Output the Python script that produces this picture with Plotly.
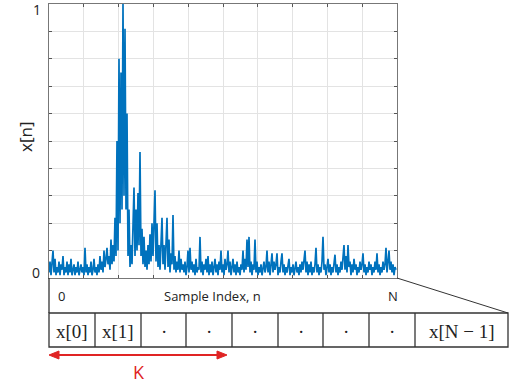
import plotly.graph_objects as go

# ---- data (one sample per pixel column) ----
signal = [
    0.02, 0.06, 0.01, 0.05, 0.10, 0.02, 0.07, 0.01, 0.04, 0.02,
    0.06, 0.01, 0.05, 0.03, 0.08, 0.01, 0.04, 0.02, 0.06, 0.01,
    0.05, 0.02, 0.07, 0.01, 0.03, 0.05, 0.01, 0.04, 0.02, 0.06,
    0.01, 0.03, 0.05, 0.02, 0.04, 0.01, 0.11, 0.02, 0.05, 0.01,
    0.04, 0.02, 0.06, 0.01, 0.03, 0.07, 0.02, 0.04, 0.01, 0.05,
    0.02, 0.08, 0.03, 0.06, 0.02, 0.10, 0.04, 0.07, 0.11, 0.05,
    0.08, 0.03, 0.14, 0.05, 0.12, 0.06, 0.22, 0.08, 0.50, 0.10,
    0.80, 0.20, 0.75, 0.25, 1.00, 0.30, 0.91, 0.25, 0.60, 0.08,
    0.25, 0.04, 0.12, 0.05, 0.20, 0.33, 0.08, 0.25, 0.10, 0.31,
    0.12, 0.46, 0.08, 0.18, 0.05, 0.15, 0.04, 0.10, 0.03, 0.12,
    0.05, 0.16, 0.06, 0.20, 0.08, 0.18, 0.32, 0.06, 0.20, 0.04,
    0.12, 0.03, 0.17, 0.22, 0.05, 0.12, 0.03, 0.10, 0.22, 0.04,
    0.14, 0.02, 0.09, 0.05, 0.23, 0.03, 0.08, 0.02, 0.06, 0.03,
    0.10, 0.02, 0.07, 0.03, 0.05, 0.02, 0.06, 0.01, 0.04, 0.10,
    0.02, 0.11, 0.03, 0.06, 0.02, 0.05, 0.01, 0.07, 0.02, 0.04,
    0.03, 0.15, 0.02, 0.06, 0.01, 0.05, 0.03, 0.07, 0.02, 0.08,
    0.01, 0.05, 0.02, 0.06, 0.01, 0.04, 0.07, 0.02, 0.05, 0.01,
    0.06, 0.03, 0.10, 0.02, 0.05, 0.01, 0.07, 0.03, 0.05, 0.10,
    0.02, 0.06, 0.01, 0.04, 0.07, 0.02, 0.05, 0.01, 0.06, 0.02,
    0.04, 0.01, 0.05, 0.03, 0.10, 0.02, 0.07, 0.03, 0.14, 0.04,
    0.15, 0.02, 0.06, 0.01, 0.05, 0.03, 0.14, 0.02, 0.06, 0.01,
    0.04, 0.02, 0.05, 0.01, 0.03, 0.06, 0.02, 0.04, 0.10, 0.02,
    0.06, 0.01, 0.05, 0.09, 0.02, 0.06, 0.03, 0.05, 0.09, 0.01,
    0.04, 0.02, 0.06, 0.09, 0.02, 0.05, 0.01, 0.04, 0.02, 0.05,
    0.07, 0.01, 0.04, 0.02, 0.05, 0.01, 0.03, 0.06, 0.02, 0.04,
    0.01, 0.05, 0.02, 0.06, 0.03, 0.07, 0.10, 0.02, 0.06, 0.01,
    0.05, 0.02, 0.06, 0.01, 0.04, 0.02, 0.05, 0.11, 0.02, 0.05,
    0.01, 0.04, 0.02, 0.06, 0.15, 0.03, 0.05, 0.01, 0.04, 0.07,
    0.02, 0.05, 0.01, 0.04, 0.02, 0.06, 0.085, 0.02, 0.05, 0.01,
    0.04, 0.02, 0.06, 0.03, 0.07, 0.12, 0.03, 0.08, 0.02, 0.12,
    0.04, 0.06, 0.01, 0.05, 0.02, 0.07, 0.03, 0.05, 0.01, 0.04,
    0.02, 0.06, 0.03, 0.05, 0.09, 0.02, 0.05, 0.01, 0.04, 0.02,
    0.06, 0.03, 0.05, 0.01, 0.04, 0.02, 0.06, 0.03, 0.09, 0.02,
    0.05, 0.01, 0.04, 0.02, 0.06, 0.03, 0.05, 0.11, 0.02, 0.05,
    0.10, 0.03, 0.06, 0.02, 0.05, 0.01, 0.04, 0.03,
]
n_index = list(range(len(signal)))
N_SAMPLES = 348

y_tick_text = ["0", "1"]
x_tick_text = ["0", "Sample Index, n", "N"]
cell_labels = ["x[0]", "x[1]", "·", "·", "·", "·", "·", "·", "x[N − 1]"]
span_label = "K"

# ---- figure geometry (pixels) ----
W, H = 509, 385
L, R, T, B = 49, 397, 4, 278


def px(x):
    return (x - L) / (R - L)


def py(y):
    return (B - y) / (B - T)


fig = go.Figure()
fig.add_trace(go.Scatter(
    x=n_index, y=signal, mode="lines",
    line=dict(color="#0072BD", width=1.7),
    hoverinfo="skip", showlegend=False,
))

axis_common = dict(
    showgrid=True, gridcolor="#e3e3e3", gridwidth=1,
    zeroline=False, showline=True, linecolor="#777777", linewidth=1,
    mirror="ticks", ticks="inside", ticklen=3, tickcolor="#555555",
    showticklabels=False,
)
fig.update_xaxes(range=[0, N_SAMPLES], dtick=N_SAMPLES / 10, tick0=0, **axis_common)
fig.update_yaxes(range=[0, 1], dtick=0.1, tick0=0, **axis_common)

fig.update_layout(
    width=W, height=H,
    margin=dict(l=L, r=W - R, t=T, b=H - B, pad=0),
    paper_bgcolor="white", plot_bgcolor="white",
    font=dict(family="Open Sans", color="#222222"),
)

shapes = []
line_style = dict(color="#333333", width=1.3)
shapes.append(dict(type="line", xref="paper", yref="paper",
                   x0=px(49), y0=py(278), x1=px(49), y1=py(313), line=line_style))
shapes.append(dict(type="line", xref="paper", yref="paper",
                   x0=px(397), y0=py(278), x1=px(508), y1=py(313),
                   line=dict(color="#333333", width=1)))
cell_edges = [49, 95, 141, 186, 232, 278, 323, 369, 415, 508]
shapes.append(dict(type="rect", xref="paper", yref="paper",
                   x0=px(49), y0=py(313), x1=px(508), y1=py(347), line=line_style))
for e in cell_edges[1:-1]:
    shapes.append(dict(type="line", xref="paper", yref="paper",
                       x0=px(e), y0=py(313), x1=px(e), y1=py(347), line=line_style))

# red double-headed arrow spanning K cells
RED = "#e02424"
ax0, ax1, ay = 49, 227, 355
shapes.append(dict(type="line", xref="paper", yref="paper",
                   x0=px(ax0 + 6), y0=py(ay), x1=px(ax1 - 6), y1=py(ay),
                   line=dict(color=RED, width=2)))


def tri(tip, back):
    return (f"M {px(tip)} {py(ay)} L {px(back)} {py(ay - 4)} "
            f"L {px(back)} {py(ay + 4)} Z")


shapes.append(dict(type="path", xref="paper", yref="paper", path=tri(ax0, ax0 + 10),
                   fillcolor=RED, line=dict(color=RED, width=1)))
shapes.append(dict(type="path", xref="paper", yref="paper", path=tri(ax1, ax1 - 10),
                   fillcolor=RED, line=dict(color=RED, width=1)))
fig.update_layout(shapes=shapes)

ann = []


def text_at(x, y, txt, **font):
    ann.append(dict(x=px(x), y=py(y), text=txt, showarrow=False,
                    xref="paper", yref="paper", xanchor="center", yanchor="middle",
                    font=font))


text_at(37, 9, y_tick_text[1], size=14, color="#222")
text_at(36, 272, y_tick_text[0], size=14, color="#222")
ann.append(dict(x=px(25), y=py(137), text="x[n]", textangle=-90, showarrow=False,
                xref="paper", yref="paper", xanchor="center", yanchor="middle",
                font=dict(size=17, color="#222")))
for txt, xx in zip(x_tick_text, [61, 212, 393]):
    text_at(xx, 296, txt, size=13, color="#222")
for i, txt in enumerate(cell_labels):
    cx = (cell_edges[i] + cell_edges[i + 1]) / 2
    text_at(cx, 331, txt, family="Liberation Serif", size=19, color="#222")
text_at(139, 372, span_label, size=18, color=RED)
fig.update_layout(annotations=ann)

fig.write_html("out.html", config={"displayModeBar": False},
               post_script="document.body.style.margin='0';")
